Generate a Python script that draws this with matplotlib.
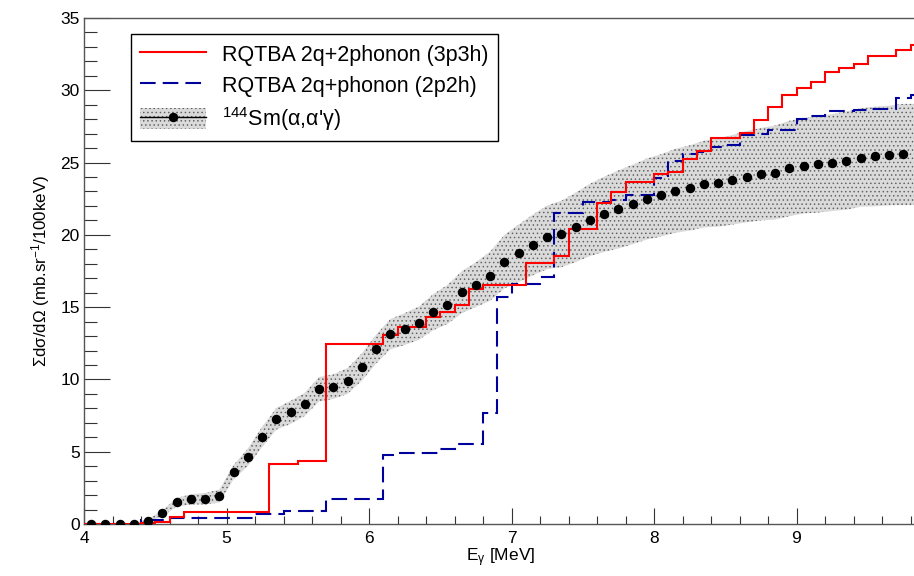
import numpy as np
import matplotlib
matplotlib.use("Agg")
import matplotlib.pyplot as plt
from matplotlib.lines import Line2D
from matplotlib.patches import Patch

plt.rcParams['font.family'] = ['Liberation Sans', 'DejaVu Sans']
plt.rcParams['mathtext.fontset'] = 'custom'
plt.rcParams['mathtext.rm'] = 'Liberation Sans'
plt.rcParams['mathtext.it'] = 'Liberation Sans:italic'
plt.rcParams['hatch.linewidth'] = 0.55

# histogram bin edges (MeV)
bin_edges = [4.0, 4.1, 4.2, 4.3, 4.4, 4.5, 4.6, 4.7, 4.8, 4.9,
             5.0, 5.1, 5.2, 5.3, 5.4, 5.5, 5.6, 5.7, 5.8, 5.9,
             6.0, 6.1, 6.2, 6.3, 6.4, 6.5, 6.6, 6.7, 6.8, 6.9,
             7.0, 7.1, 7.2, 7.3, 7.4, 7.5, 7.6, 7.7, 7.8, 7.9,
             8.0, 8.1, 8.2, 8.3, 8.4, 8.5, 8.6, 8.7, 8.8, 8.9,
             9.0, 9.1, 9.2, 9.3, 9.4, 9.5, 9.6, 9.7, 9.8, 9.9]

rqtba_3p3h = [0, 0, 0, 0, 0.05, 0.12, 0.46, 0.81, 0.81, 0.81,
              0.81, 0.81, 0.81, 4.12, 4.12, 4.36, 4.36, 12.44, 12.44, 12.44,
              12.44, 13.09, 13.62, 13.62, 14.35, 14.65, 15.18, 16.23, 16.54, 16.54,
              16.54, 18.07, 18.07, 18.56, 20.4, 20.4, 22.2, 22.99, 23.69, 23.69,
              24.2, 24.36, 25.24, 25.8, 26.68, 26.68, 27.08, 27.95, 28.85, 29.67,
              30.18, 30.57, 31.26, 31.56, 31.79, 32.39, 32.39, 32.76, 33.1]

rqtba_2p2h = [0, 0, 0, 0, 0.28, 0.28, 0.43, 0.43, 0.43, 0.43,
              0.43, 0.43, 0.72, 0.72, 0.9, 0.9, 0.9, 1.72, 1.72, 1.72,
              1.72, 4.78, 4.9, 4.9, 4.9, 5.22, 5.52, 5.52, 7.68, 15.73,
              16.6, 16.6, 17.07, 21.5, 21.5, 22.3, 22.3, 22.42, 22.77, 22.77,
              23.92, 25.12, 25.58, 25.7, 26.1, 26.2, 26.92, 26.96, 27.23, 27.23,
              28.04, 28.23, 28.57, 28.57, 28.66, 28.73, 28.73, 29.44, 29.67]

# experimental points (bin centres)
exp_e = [4.05, 4.15, 4.25, 4.35, 4.45, 4.55, 4.65, 4.75, 4.85, 4.95,
         5.05, 5.15, 5.25, 5.35, 5.45, 5.55, 5.65, 5.75, 5.85, 5.95,
         6.05, 6.15, 6.25, 6.35, 6.45, 6.55, 6.65, 6.75, 6.85, 6.95,
         7.05, 7.15, 7.25, 7.35, 7.45, 7.55, 7.65, 7.75, 7.85, 7.95,
         8.05, 8.15, 8.25, 8.35, 8.45, 8.55, 8.65, 8.75, 8.85, 8.95,
         9.05, 9.15, 9.25, 9.35, 9.45, 9.55, 9.65, 9.75]
exp_val = [0, 0, 0, 0, 0.23, 0.74, 1.50, 1.70, 1.75, 1.93,
           3.59, 4.62, 6.02, 7.28, 7.72, 8.28, 9.32, 9.50, 9.90, 10.86,
           12.10, 13.13, 13.48, 13.89, 14.65, 15.18, 16.03, 16.56, 17.14, 18.15,
           18.72, 19.30, 19.83, 20.06, 20.52, 21.03, 21.42, 21.76, 22.10, 22.48,
           22.73, 23.05, 23.24, 23.51, 23.62, 23.81, 24.02, 24.20, 24.31, 24.59,
           24.78, 24.89, 25.00, 25.14, 25.35, 25.42, 25.49, 25.56]
exp_err = [0.02, 0.02, 0.02, 0.02, 0.1, 0.2, 0.3, 0.35, 0.4, 0.45,
           0.5, 0.6, 0.7, 0.75, 0.8, 0.8, 0.85, 0.85, 0.9, 0.95,
           1.0, 1.05, 1.1, 1.15, 1.25, 1.35, 1.45, 1.55, 1.7, 1.85,
           2.0, 2.1, 2.2, 2.3, 2.4, 2.5, 2.6, 2.7, 2.75, 2.8,
           2.85, 2.9, 2.95, 3.0, 3.05, 3.1, 3.15, 3.2, 3.25, 3.3,
           3.3, 3.35, 3.35, 3.4, 3.4, 3.45, 3.45, 3.5]

BAND_FACE = '#dadada'
BAND_HATCH = '#606060'
RED = '#ff0000'
BLUE = '#00009a'
DASH = (0, (7.5, 3.4))

W, H = 914, 576
fig = plt.figure(figsize=(W / 100, H / 100), dpi=100)
x0, x1 = 4.0, 9.85
px_per_mev = 142.5
ax = fig.add_axes([84 / W, (H - 524) / H, (x1 - x0) * px_per_mev / W, (524 - 18) / H])

ev = np.array(exp_e)
vv = np.array(exp_val)
ee = np.array(exp_err)
# extend band to the frame edge with last point's value
band_x = np.append(ev, x1)
band_lo = np.append(vv - ee, vv[-1] - ee[-1])
band_hi = np.append(vv + ee, vv[-1] + ee[-1])
ax.fill_between(band_x, band_lo, band_hi, facecolor=BAND_FACE, edgecolor=BAND_HATCH,
                hatch='....', linewidth=0, zorder=1)

ax.stairs(rqtba_3p3h, bin_edges, color=RED, linewidth=1.5, zorder=3)
ax.stairs(rqtba_2p2h, bin_edges, color=BLUE, linewidth=1.5, linestyle=DASH, zorder=2)
ax.plot(exp_e, exp_val, linestyle='none', marker='o', markersize=5.8,
        color='black', zorder=4)

ax.set_xlim(x0, x1)
ax.set_ylim(0, 35)
ax.set_xticks([4, 5, 6, 7, 8, 9])
ax.set_xticks(np.arange(4.0, 9.85, 0.2), minor=True)
ax.set_yticks([0, 5, 10, 15, 20, 25, 30, 35])
ax.set_yticks(np.arange(0, 35.1, 1), minor=True)
ax.tick_params(axis='x', which='major', direction='in', length=11.5, width=0.8,
               color='#333333', labelsize=12.5, pad=5)
ax.tick_params(axis='x', which='minor', direction='in', length=5.6, width=0.8, color='#333333')
ax.tick_params(axis='y', which='major', direction='in', length=18.5, width=0.8,
               color='#333333', labelsize=12.5, pad=3)
ax.tick_params(axis='y', which='minor', direction='in', length=9.3, width=0.8, color='#333333')
for s in ax.spines.values():
    s.set_color('#555555')
    s.set_linewidth(1.0)

ax.set_xlabel('E$_{\\mathregular{γ}}$ [MeV]', fontsize=12.5, labelpad=1)
ax.set_ylabel('Σdσ/dΩ (mb.sr$^{\\mathregular{-1}}$/100keV)', fontsize=12.2, labelpad=6)
ax.xaxis.set_label_coords((501 - 84) / ((x1 - x0) * px_per_mev), -0.045)

h_red = Line2D([], [], color=RED, linewidth=1.5)
h_blue = Line2D([], [], color=BLUE, linewidth=1.5, linestyle=DASH)
h_band = Patch(facecolor=BAND_FACE, edgecolor=BAND_HATCH, hatch='....', linewidth=0)
h_pt = Line2D([], [], color='black', linewidth=1.0, marker='o', markersize=5.8)
leg = ax.legend([h_red, h_blue, (h_band, h_pt)],
                ['RQTBA 2q+2phonon (3p3h)', 'RQTBA 2q+phonon (2p2h)',
                 '$^{\\mathregular{144}}$Sm(α,α\'γ)'],
                loc='upper left', bbox_to_anchor=(131 / W, 1 - 34 / H),
                bbox_transform=fig.transFigure, fontsize=15.5, frameon=True,
                fancybox=False, edgecolor='black', framealpha=1,
                handlelength=3.1, handleheight=1.15, handletextpad=0.75,
                borderpad=0.4, labelspacing=0.38, borderaxespad=0)
leg.get_frame().set_linewidth(1.0)

fig.savefig('out.png', dpi=100)
